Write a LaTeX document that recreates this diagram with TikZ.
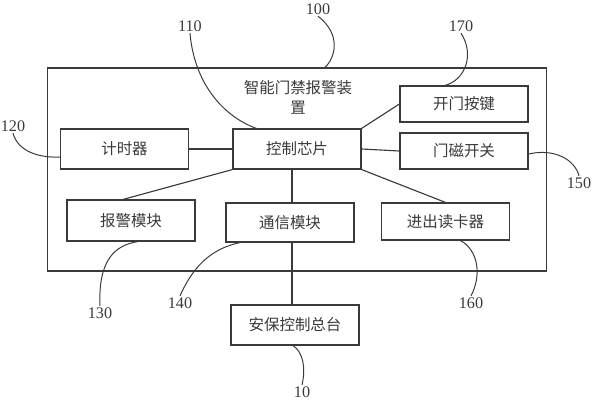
\documentclass[tikz,border=0pt]{standalone}
\usepackage{fontspec}
\setmainfont{Liberation Serif}
\newfontfamily\cjk{Noto Sans CJK SC}
\usetikzlibrary{calc}
\definecolor{inkgray}{HTML}{3A3A3A}

\begin{document}
\begin{tikzpicture}[x=0.025cm, y=-0.025cm,
  box/.style={draw=inkgray, line width=0.8pt, minimum width=3.2cm,
              minimum height=1cm, inner sep=0pt, text=inkgray,
              font=\cjk\fontsize{11}{14}\selectfont},
  wire/.style={draw=inkgray, line width=0.8pt},
  lead/.style={draw=inkgray, line width=0.7pt},
  num/.style={font=\fontsize{11.5}{13}\selectfont, text=inkgray, inner sep=1pt},
]
\fill[white] (0,0) rectangle (592,400);
\useasboundingbox (0,0) rectangle (592,400);

% ---- Device frame ----
\node[draw=inkgray, line width=0.8pt, minimum width=12.45cm,
      minimum height=5.075cm, inner sep=0pt] (dev) at (297,169.5) {};
\node[font=\cjk\fontsize{11}{14.2}\selectfont, align=center, text=inkgray]
  (title) at (298,97) {智能门禁报警装\\置};

% ---- Modules ----
\node[box] (timer) at (124.5,149) {计时器};
\node[box] (chip) at (297,149) {控制芯片};
\node[box, minimum height=0.9cm] (key) at (464,104) {开门按键};
\node[box, minimum height=0.9cm] (magnet) at (464,151) {门磁开关};
\node[box, minimum height=1.025cm] (alarm) at (131,220.5) {报警模块};
\node[box, minimum height=0.975cm] (comm) at (290,222.5) {通信模块};
\node[box, minimum height=0.925cm] (reader) at (445.5,221.5) {进出读卡器};
\node[box] (console) at (295,325) {安保控制总台};

% ---- Wiring ----
\draw[wire] (timer.east) -- (chip.west);
\draw[wire] (chip.east) -- (magnet.west);
\draw[wire] (chip.north east) -- (key.west);
\draw[wire] (chip.south west) -- ($(alarm.north)+(-8,0)$);
\draw[wire] (chip.south east) -- (reader.north);
\draw[wire] (comm.north -| 292,0) -- (chip.south -| 292,0);
\draw[wire] (comm.south -| 292,0) -- (console.north -| 292,0);

% ---- Reference numerals ----
\node[num] (l100) at (318,9) {100};
\node[num] (l110) at (190,26) {110};
\node[num] (l170) at (461,26) {170};
\node[num] (l120) at (13,126) {120};
\node[num] (l150) at (579,183) {150};
\node[num] (l130) at (100,313) {130};
\node[num] (l140) at (180,303) {140};
\node[num] (l160) at (471,303) {160};
\node[num] (l10) at (302,392) {10};

\draw[lead] (l100.south) .. controls (342,35) and (335,58) .. ($(dev.north)+(28,0)$);
\draw[lead] (l110.south) .. controls (194,80) and (220,115) .. ($(chip.north west)+(24,0)$);
\draw[lead] (l170.south) .. controls (475,55) and (465,80) .. ($(key.north)+(-19,0)$);
\draw[lead] (l120.south) .. controls (18,152) and (40,158) .. ($(timer.west)+(0,8)$);
\draw[lead] ($(magnet.east)+(0,3)$) .. controls (555,148) and (575,160) .. (l150.north);
\draw[lead] (l130.north) .. controls (98,260) and (115,245) .. ($(alarm.south)+(7,0)$);
\draw[lead] (l140.north) .. controls (195,262) and (215,248) .. ($(comm.south)+(-50,0)$);
\draw[lead] ($(reader.south)+(15,0)$) .. controls (478,250) and (482,275) .. (l160.north);
\draw[lead] ($(console.south)+(-2,0)$) .. controls (303,352) and (306,368) .. (l10.north);

\end{tikzpicture}
\end{document}
